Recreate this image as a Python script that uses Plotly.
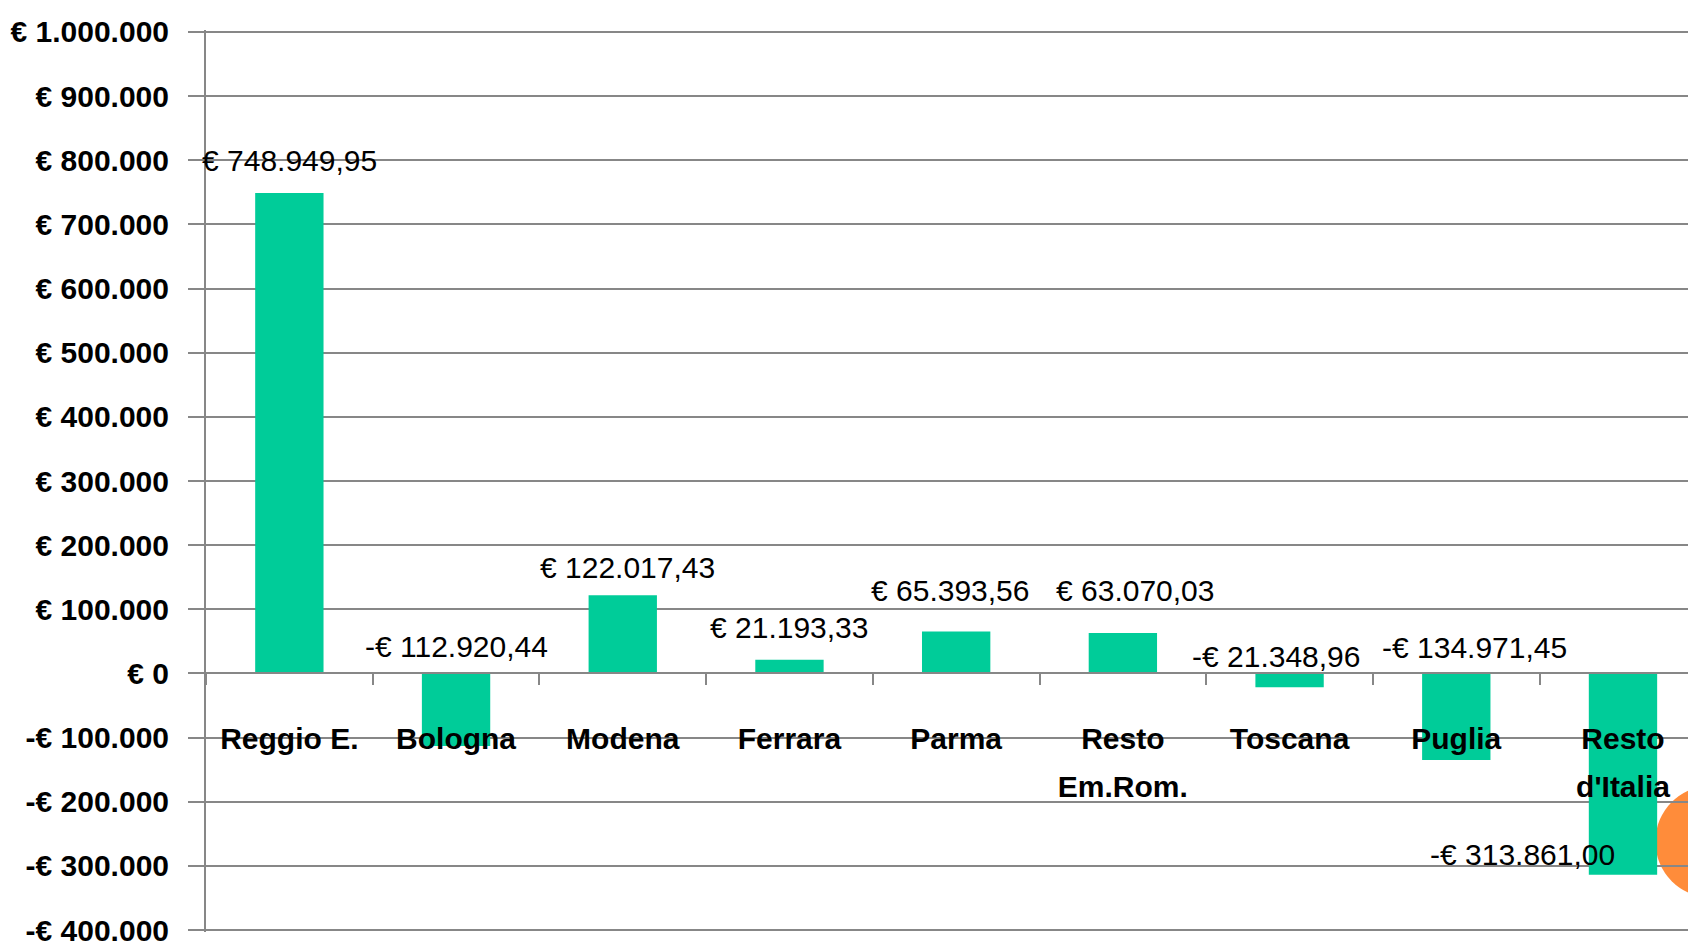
import plotly.graph_objects as go

categories = ["Reggio E.", "Bologna", "Modena", "Ferrara", "Parma",
              "Resto<br>Em.Rom.", "Toscana", "Puglia", "Resto<br>d'Italia"]
values = [748949.95, -112920.44, 122017.43, 21193.33, 65393.56,
          63070.03, -21348.96, -134971.45, -313861.00]
value_labels = ["€ 748.949,95", "-€ 112.920,44", "€ 122.017,43", "€ 21.193,33",
                "€ 65.393,56", "€ 63.070,03", "-€ 21.348,96", "-€ 134.971,45",
                "-€ 313.861,00"]
tick_values = [-400000, -300000, -200000, -100000, 0, 100000, 200000, 300000,
               400000, 500000, 600000, 700000, 800000, 900000, 1000000]
tick_labels = ["-€ 400.000", "-€ 300.000", "-€ 200.000", "-€ 100.000", "€ 0",
               "€ 100.000", "€ 200.000", "€ 300.000", "€ 400.000", "€ 500.000",
               "€ 600.000", "€ 700.000", "€ 800.000", "€ 900.000", "€ 1.000.000"]

# label placement (category offset, y position in data units)
label_dx = [0.0, 0.0, 0.03, 0.0, -0.04, 0.07, -0.08, 0.11, -0.6]
label_y = [800000, 42000, 165000, 71000, 129000, 129000, 27000, 40500, -281700]

FONT = "Liberation Sans, Arial, sans-serif"
GRID = "#878787"
BAR = "#00CC99"

# category tick text: glyphs at 30px, line spacing from a 37px base font
cat_ticktext = ["<br>".join(f"<span style='font-size:30px'>{p}</span>"
                            for p in c.split("<br>")) for c in categories]

fig = go.Figure()
fig.add_trace(go.Bar(x=categories, y=values, marker=dict(color=BAR, line=dict(width=0)),
                     width=0.41, hoverinfo="skip"))

for i, (t, dx, ly) in enumerate(zip(value_labels, label_dx, label_y)):
    fig.add_annotation(x=i + dx, y=ly, xref="x", yref="y", text=t, showarrow=False,
                       font=dict(family=FONT, size=30, color="black"),
                       xanchor="center", yanchor="middle")

# orange circle at the right edge
fig.add_shape(type="circle", xref="x", yref="y", xsizemode="pixel", ysizemode="pixel",
              xanchor=8.53, yanchor=-262000, x0=-56, x1=56, y0=-56, y1=56,
              fillcolor="#FF8C3A", line=dict(width=0), layer="below")

y0, y1 = -403000, 1003000
fig.update_layout(
    width=1688, height=946,
    margin=dict(l=206, r=0, t=30, b=14),
    paper_bgcolor="white", plot_bgcolor="white",
    showlegend=False,
    xaxis=dict(
        type="category", range=[-0.5, 8.39],
        tickmode="array", tickvals=categories, ticktext=cat_ticktext,
        tickson="boundaries", ticks="outside", ticklen=11, tickwidth=2, tickcolor=GRID,
        showline=True, linecolor=GRID, linewidth=2, showgrid=False, zeroline=False,
        anchor="free", position=(0 - y0) / (y1 - y0), automargin=False,
        tickfont=dict(family=FONT, size=37, color="black", weight="bold"),
        ticklabelstandoff=30, ticklabeloverflow="allow", fixedrange=True,
    ),
    yaxis=dict(
        range=[y0, y1], tickmode="array", tickvals=tick_values, ticktext=tick_labels,
        showgrid=True, gridcolor=GRID, gridwidth=2, zeroline=False,
        showline=True, linecolor=GRID, linewidth=2, automargin=False,
        ticks="outside", ticklen=16, tickwidth=2, tickcolor=GRID,
        tickfont=dict(family=FONT, size=30, color="black", weight="bold"),
        ticklabelstandoff=13, ticklabeloverflow="allow", fixedrange=True,
    ),
)

fig.write_html(
    "out.html",
    config={"displayModeBar": False},
    post_script="document.body.style.margin='0';document.body.style.overflow='hidden';",
)
